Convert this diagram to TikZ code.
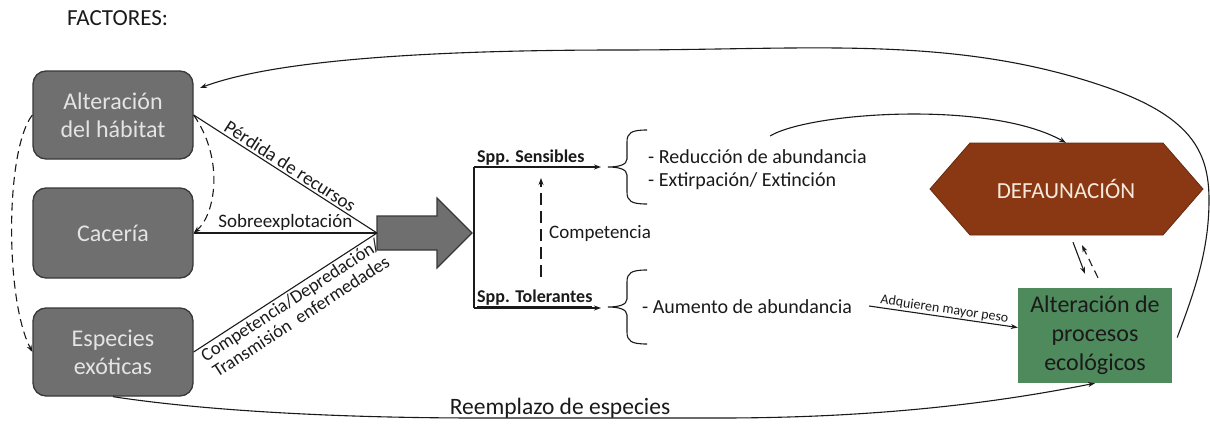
\documentclass[tikz,border=0pt]{standalone}
\usepackage{fontspec}
\setmainfont{Carlito}
\usetikzlibrary{arrows.meta,calc}
\definecolor{boxgray}{HTML}{6F6F6F}
\definecolor{boxedge}{HTML}{383838}
\definecolor{boxtext}{HTML}{E4E4E4}
\definecolor{defbrown}{HTML}{8A3814}
\definecolor{deftext}{HTML}{F6E9DC}
\definecolor{ecogreen}{HTML}{4F8A5C}
\definecolor{ink}{HTML}{1A1A1A}
\begin{document}
\begin{tikzpicture}[x=1pt,y=1pt,
  >={Stealth[length=7pt,width=5pt]},
  factor/.style={draw=boxedge,line width=1.3pt,fill=boxgray,rounded corners=13pt,
    minimum width=160pt,minimum height=88pt,align=center,text=boxtext,
    font=\fontsize{24}{28}\selectfont,inner sep=0pt},
  conn/.style={line width=1.1pt,draw=ink},
  dashconn/.style={conn,dash pattern=on 8pt off 5pt},
  lbl/.style={font=\fontsize{19}{20}\selectfont,text=ink,inner sep=2pt},
  spp/.style={font=\fontsize{18}{20}\selectfont\bfseries,text=ink,inner sep=0pt},
  item/.style={font=\fontsize{20}{24}\selectfont,text=ink,inner sep=0pt},
  lbrace/.pic={\draw[conn] (20,37) .. controls (4,37) and (0,34) .. (0,25) -- (0,8)
      .. controls (0,2) and (-9,0) .. (-19,0) .. controls (-9,0) and (0,-2) .. (0,-8)
      -- (0,-25) .. controls (0,-34) and (4,-37) .. (20,-37);}
]
\useasboundingbox (0,0) rectangle (1210,-423);

% title
\node[anchor=base west,font=\fontsize{23}{24}\selectfont,text=ink,inner sep=0pt] (fac) at (67,-25) {FACTORES:};

% factor boxes
\node[factor] (hab) at (113,-115) {Alteración\\del hábitat};
\node[factor,minimum height=90pt] (cac) at (113,-233) {Cacería};
\node[factor] (exo) at (113,-352) {Especies\\exóticas};

% junction and block arrow
\coordinate (J) at (377,-233);
\draw[draw=boxedge,line width=1.2pt,fill=boxgray]
  (377,-216) -- (437,-216) -- (437,-198) -- (472,-233) -- (437,-268) -- (437,-250) -- (377,-250) -- cycle;

\draw[conn] (hab.east) -- node[lbl,midway,above,sloped] {Pérdida de recursos} (J);
\draw[conn] (J) -- node[lbl,midway,above] {Sobreexplotación} (cac.east);
\draw[conn] (exo.east) -- node[lbl,midway,below,sloped,align=center,font=\fontsize{18.5}{19.5}\selectfont]
  {Competencia/Depredación/\\Transmisión~ enfermedades} (J);

% dashed links between factors
\draw[dashconn,->] (hab.east) .. controls (225,-160) and (215,-215) .. (cac.east);
\draw[dashconn,->] (hab.west) .. controls (5,-150) and (5,-300) .. (exo.west);

% branches
\coordinate (Bt) at (474,-167);
\coordinate (Bb) at (474,-308);
\coordinate (St) at (601,-167);
\coordinate (Tt) at (601,-308);
\draw[conn] (Bt) -- (Bb);
\draw[conn,->] (Bt) -- (St);
\draw[conn,->] (Bb) -- (Tt);
\node[spp,anchor=base west] (sens) at (477,-162) {\underline{Spp. Sensibles}};
\node[spp,anchor=base west] (tol) at (477,-302) {\underline{Spp. Tolerantes}};

% competencia
\coordinate (C1) at (541,-277);
\coordinate (C2) at (541,-178);
\draw[conn,dash pattern=on 12pt off 6pt,->] (C1) -- (C2);
\node[lbl,anchor=west,inner sep=0pt] (comp) at (549,-233) {Competencia};

% braces and outcomes
\pic at (627,-167) {lbrace};
\pic at (627,-307) {lbrace};
\node[item,anchor=west] (red) at (648,-157) {- Reducción de abundancia};
\node[item,anchor=west] (ext) at (648,-181) {- Extirpación/ Extinción};
\node[item,anchor=west] (aum) at (642,-307) {- Aumento de abundancia};

% defaunacion
\draw[fill=defbrown,draw=defbrown!75!black,line width=0.8pt]
  (930,-189) -- (970,-143) -- (1163,-143) -- (1203,-189) -- (1163,-235) -- (970,-235) -- cycle;
\node[minimum width=193pt,minimum height=92pt,inner sep=0pt,text=deftext,
  font=\fontsize{23}{26}\selectfont] (def) at (1066,-189) {DEFAUNACIÓN};

% ecological processes
\node[fill=ecogreen,minimum width=154pt,minimum height=95pt,inner sep=0pt,align=center,
  text=ink,font=\fontsize{24}{29}\selectfont] (eco) at (1095,-335.5) {Alteración de\\procesos\\ecológicos};

% connectors on the right
\coordinate (rs) at (770,-136);
\draw[conn,->] (rs) .. controls (810,-112) and (990,-100) .. (def.north);
\coordinate (as) at (869,-306);
\draw[conn,->] (as) -- node[midway,above,sloped,font=\fontsize{14}{15}\selectfont,text=ink,inner sep=1pt] {Adquieren mayor peso} ([yshift=8pt]eco.west);
\draw[conn,->] ($(def.south)+(7,-7)$) -- ($(eco.north)+(-10,14)$);
\draw[dashconn,->] ($(eco.north)+(3,10)$) -- ($(def.south)+(16,-10)$);

% big feedback loop to habitat
\coordinate (habin) at (200,-88);
\draw[conn,->] ([xshift=5pt,yshift=-2pt]eco.east)
  .. controls (1195,-290) and (1209,-250) .. (1209,-200)
  .. controls (1209,-150) and (1190,-115) .. (1100,-85)
  .. controls (950,-35) and (808,-50) .. (620,-50)
  .. controls (450,-50) and (280,-58) .. (habin);

% species replacement
\draw[conn,->] (exo.south) .. controls (200,-410) and (330,-418) .. (480,-418) -- (720,-418)
  .. controls (900,-418) and (1020,-398) .. (eco.south);
\node[font=\fontsize{23.5}{25}\selectfont,text=ink,inner sep=0pt,anchor=base] (rep) at (560,-414) {Reemplazo de especies};
\end{tikzpicture}
\end{document}
